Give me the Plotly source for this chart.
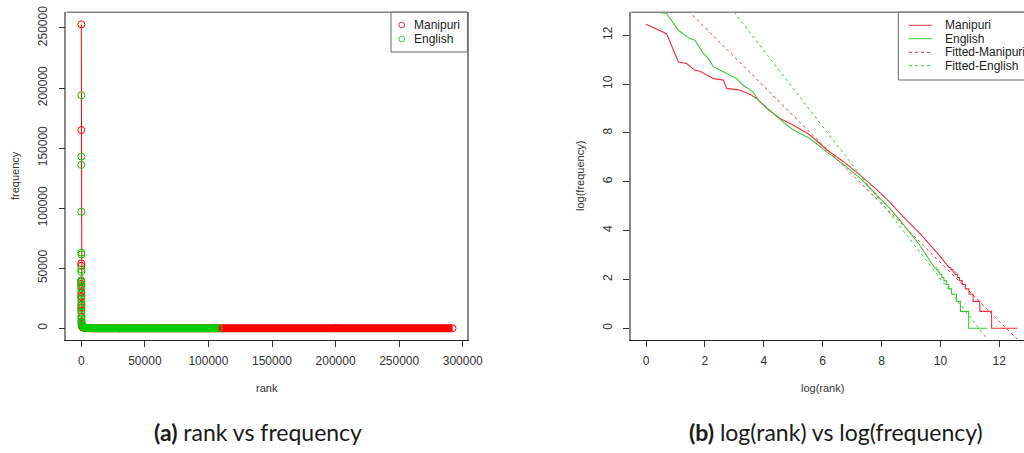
import plotly.graph_objects as go

W, H = 1024, 453

# ---------------- panel (a): rank vs frequency ----------------
manipuri_rank = [1, 2, 3, 4, 5, 6, 7, 8, 10, 12, 15, 20, 30, 50, 100, 200, 500, 1000,
                 3000, 10000, 30000, 100000, 200000, 292000]
manipuri_freq = [253000, 165000, 54000, 52000, 39000, 37000, 35000, 30000, 27000, 26000,
                 20000, 17500, 14800, 9400, 5200, 3000, 1400, 770, 200, 40, 8, 2, 1, 1]

english_rank = [1, 2, 3, 4, 5, 6, 7, 8, 9, 10, 12, 15, 20, 25, 30, 40, 50, 70, 100, 150,
                200, 300, 500, 1000, 3000, 10000, 30000, 60000, 108000]
english_freq = [194000, 143000, 136000, 97000, 63000, 61500, 49000, 47000, 40000, 38500,
                36000, 33000, 29000, 25000, 22500, 19000, 16500, 13000, 10000, 7500,
                6000, 4200, 2600, 1300, 400, 60, 8, 2, 1]

rank_ticks = [0, 50000, 100000, 150000, 200000, 250000, 300000]
rank_labels = ["0", "50000", "100000", "150000", "200000", "250000", "300000"]
freq_ticks = [0, 50000, 100000, 150000, 200000, 250000]
freq_labels = ["0", "50000", "100000", "150000", "200000", "250000"]

# ---------------- panel (b): log(rank) vs log(frequency) ----------------
manipuri_logrank = [0, 0.70, 1.10, 1.38, 1.66, 1.84, 2.29, 2.63, 2.74, 3.19, 3.59, 3.76,
                    4.10, 4.55, 5.00, 5.57, 6.14, 6.70, 7.27, 7.80, 8.29, 8.74, 9.30, 9.87,
                    10.30, 10.36, 10.36, 10.43, 10.43, 10.50, 10.50, 10.58, 10.58, 10.65,
                    10.65, 10.74, 10.74, 10.85, 10.85, 10.97, 10.97, 11.11, 11.11, 11.34,
                    11.34, 11.74, 11.74, 12.61]
manipuri_logfreq = [12.45, 12.06, 10.90, 10.84, 10.56, 10.52, 10.22, 10.16, 9.82, 9.75, 9.54, 9.41,
                    9.00, 8.59, 8.32, 7.91, 7.31, 6.83, 6.27, 5.72, 5.15, 4.56, 3.88, 3.12,
                    2.48, 2.48, 2.40, 2.40, 2.30, 2.30, 2.20, 2.20, 2.08, 2.08,
                    1.95, 1.95, 1.79, 1.79, 1.61, 1.61, 1.39, 1.39, 1.10, 1.10,
                    0.69, 0.69, 0, 0]

english_logrank = [0, 0.69, 1.10, 1.49, 1.66, 1.95, 2.12, 2.29, 2.63, 2.86, 3.08, 3.30, 3.64,
                   3.81, 4.32, 4.78, 5.00, 5.57, 6.14, 6.70, 7.27, 7.83, 8.29, 8.74, 9.30,
                   9.80, 9.86, 9.86, 9.92, 9.92, 9.98, 9.98, 10.05, 10.05, 10.12, 10.12,
                   10.20, 10.20, 10.28, 10.28, 10.38, 10.38, 10.55, 10.55, 10.68, 10.68,
                   10.96, 10.96, 11.59]
english_logfreq = [12.96, 12.90, 12.20, 11.86, 11.79, 11.25, 11.04, 10.70, 10.50, 10.36, 10.22,
                   9.95, 9.68, 9.34, 8.79, 8.32, 8.13, 7.77, 7.22, 6.72, 6.15, 5.45, 4.90,
                   4.25, 3.40, 2.48, 2.48, 2.40, 2.40, 2.30, 2.30, 2.20, 2.20, 2.08, 2.08,
                   1.95, 1.95, 1.79, 1.79, 1.61, 1.61, 1.39, 1.39, 1.10, 1.10, 0.69, 0.69,
                   0, 0]

fitted_manipuri_x = [0, 12.61]
fitted_manipuri_y = [14.72, -0.45]
fitted_english_x = [0, 11.59]
fitted_english_y = [17.61, -0.45]

log_ticks = [0, 2, 4, 6, 8, 10, 12]
log_labels = ["0", "2", "4", "6", "8", "10", "12"]

RED = "#FF0000"
GREEN = "#00CD00"
RED_THIN = "#E8343C"
GREEN_THIN = "#3CC83C"
AX_FONT = "Liberation Sans, Arial, sans-serif"

fig = go.Figure()

# panel (a) -- Manipuri: points joined by a thin line, dense tail drawn as a thick band
band_m = 16
fig.add_trace(go.Scatter(x=manipuri_rank[band_m:], y=manipuri_freq[band_m:], mode="lines",
                         line=dict(color=RED, width=8), xaxis="x", yaxis="y",
                         showlegend=False, hoverinfo="skip"))
fig.add_trace(go.Scatter(x=manipuri_rank, y=manipuri_freq, mode="lines+markers",
                         line=dict(color=RED, width=1),
                         marker=dict(symbol="circle-open", size=7, color=RED,
                                     line=dict(width=1)),
                         xaxis="x", yaxis="y", name="Manipuri", showlegend=False))
band_e = 22
fig.add_trace(go.Scatter(x=english_rank[band_e:], y=english_freq[band_e:], mode="lines",
                         line=dict(color=GREEN, width=8), xaxis="x", yaxis="y",
                         showlegend=False, hoverinfo="skip"))
fig.add_trace(go.Scatter(x=english_rank, y=english_freq, mode="markers",
                         marker=dict(symbol="circle-open", size=7, color=GREEN,
                                     line=dict(width=1)),
                         xaxis="x", yaxis="y", name="English", showlegend=False))

# panel (b)
fig.add_trace(go.Scatter(x=manipuri_logrank, y=manipuri_logfreq, mode="lines",
                         line=dict(color=RED_THIN, width=1.1), xaxis="x2", yaxis="y2",
                         name="Manipuri", showlegend=False))
fig.add_trace(go.Scatter(x=english_logrank, y=english_logfreq, mode="lines",
                         line=dict(color=GREEN_THIN, width=1.1), xaxis="x2", yaxis="y2",
                         name="English", showlegend=False))
fig.add_trace(go.Scatter(x=fitted_manipuri_x, y=fitted_manipuri_y, mode="lines",
                         line=dict(color=RED_THIN, width=1, dash="3px,3px"),
                         xaxis="x2", yaxis="y2", name="Fitted-Manipuri", showlegend=False))
fig.add_trace(go.Scatter(x=fitted_english_x, y=fitted_english_y, mode="lines",
                         line=dict(color=GREEN_THIN, width=1, dash="3px,3px"),
                         xaxis="x2", yaxis="y2", name="Fitted-English", showlegend=False))


def px(x):
    return x / W


def py(y):
    return 1 - y / H


Y_DOM = [py(340.4), py(12.2)]

common_x = dict(ticks="outside", ticklen=6, tickwidth=1, tickcolor="#333",
                showline=True, linecolor="#222", linewidth=1, mirror=False,
                showgrid=False, zeroline=False, automargin=False,
                tickfont=dict(family=AX_FONT, size=12, color="#333"),
                ticklabelstandoff=3)
common_y = dict(ticks="outside", ticklen=6, tickwidth=1, tickcolor="#333",
                showline=True, linecolor="#888", linewidth=1.5,
                showgrid=False, zeroline=False, tickangle=-90, automargin=False,
                tickfont=dict(family=AX_FONT, size=12, color="#333"),
                ticklabelstandoff=7)

fig.update_layout(
    width=W, height=H, autosize=False,
    margin=dict(l=0, r=0, t=0, b=0, pad=0),
    paper_bgcolor="white", plot_bgcolor="white",
    showlegend=False,
    xaxis=dict(domain=[px(66.45), px(467.4)], range=[-11680, 303680],
               tickvals=rank_ticks, ticktext=rank_labels, anchor="y", **common_x),
    yaxis=dict(domain=Y_DOM, range=[-10120, 263120], tickvals=freq_ticks,
               ticktext=freq_labels, anchor="x", mirror=True, **common_y),
    xaxis2=dict(domain=[px(631.16), 1.0], range=[-0.504, 12.84],
                tickvals=log_ticks, ticktext=log_labels, anchor="y2", **common_x),
    yaxis2=dict(domain=Y_DOM, range=[-0.4976, 12.94], tickvals=log_ticks,
                ticktext=log_labels, anchor="x2", mirror=False, **common_y),
)

shapes = []
# top borders of both plot boxes
for xr, yr in (("x domain", "y domain"), ("x2 domain", "y2 domain")):
    shapes.append(dict(type="line", xref=xr, yref=yr, x0=0, x1=1, y0=1, y1=1,
                       line=dict(color="#888", width=1.5)))

# legend of panel (a)
shapes.append(dict(type="rect", xref="paper", yref="paper", x0=px(391), x1=px(467.4),
                   y0=py(52), y1=py(12.2), line=dict(color="#666", width=1),
                   fillcolor="white"))
for yy, col in ((25, RED_THIN), (39, GREEN_THIN)):
    shapes.append(dict(type="circle", xref="paper", yref="paper",
                       x0=px(401.7 - 2.8), x1=px(401.7 + 2.8),
                       y0=py(yy + 2.8), y1=py(yy - 2.8), line=dict(color=col, width=1)))

# legend of panel (b)
shapes.append(dict(type="rect", xref="paper", yref="paper", x0=px(898.3), x1=px(1030),
                   y0=py(80), y1=py(12.2), line=dict(color="#666", width=1),
                   fillcolor="white"))
leg_b = [("Manipuri", RED_THIN, "solid", 25.3), ("English", GREEN_THIN, "solid", 38.7),
         ("Fitted-Manipuri", RED_THIN, "3px,3px", 52.3),
         ("Fitted-English", GREEN_THIN, "3px,3px", 65.7)]
for name, col, dash, yy in leg_b:
    shapes.append(dict(type="line", xref="paper", yref="paper", x0=px(909), x1=px(931.7),
                       y0=py(yy), y1=py(yy), line=dict(color=col, width=1, dash=dash)))

fig.update_layout(shapes=shapes)

ann = []
for name, yy in (("Manipuri", 25), ("English", 39)):
    ann.append(dict(text=name, xref="paper", yref="paper", x=px(412), y=py(yy),
                    xanchor="left", yanchor="middle", showarrow=False,
                    font=dict(family=AX_FONT, size=12, color="#222")))
for name, col, dash, yy in leg_b:
    ann.append(dict(text=name, xref="paper", yref="paper", x=px(942.7), y=py(yy),
                    xanchor="left", yanchor="middle", showarrow=False,
                    font=dict(family=AX_FONT, size=12, color="#222")))

# axis titles
titles = [("frequency", 15, 176, -90), ("rank", 267, 388, 0),
          ("log(frequency)", 580, 176, -90), ("log(rank)", 822, 388, 0)]
for t, xx, yy, ang in titles:
    ann.append(dict(text=t, xref="paper", yref="paper", x=px(xx), y=py(yy),
                    xanchor="center", yanchor="middle", showarrow=False, textangle=ang,
                    font=dict(family=AX_FONT, size=11, color="#333")))

# sub-figure captions
captions = [("<b>(a)</b> rank vs frequency", 258), ("<b>(b)</b> log(rank) vs log(frequency)", 836)]
for t, xx in captions:
    ann.append(dict(text=t, xref="paper", yref="paper", x=px(xx), y=py(432),
                    xanchor="center", yanchor="middle", showarrow=False,
                    font=dict(family="Lato, Open Sans, sans-serif", size=23, color="#1a1a1a")))

fig.update_layout(annotations=ann)

fig.write_html("out.html")
